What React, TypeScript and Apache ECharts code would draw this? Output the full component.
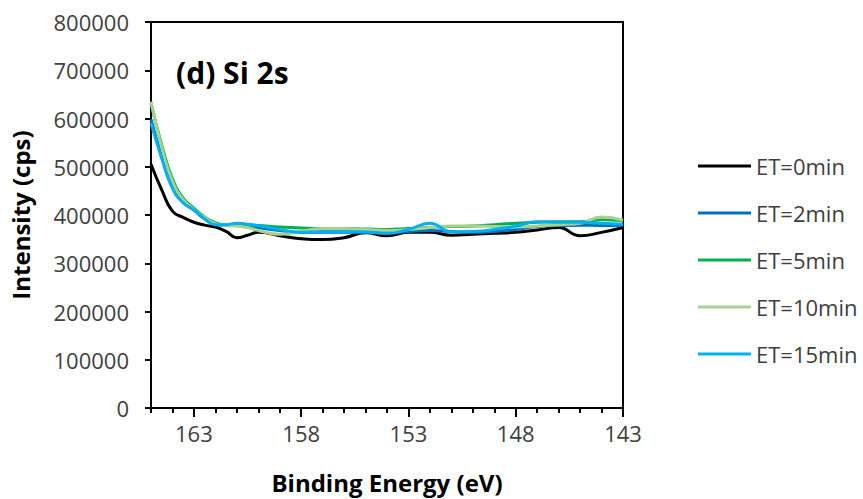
import React, { useEffect, useRef } from "react";
import * as echarts from "echarts";

const energies = [165, 164.5, 164, 163.5, 163, 162.5, 162, 161.5, 161, 160.5, 160, 159, 158, 157, 156, 155, 154, 153, 152, 151, 150, 149, 148, 147, 146, 145, 144, 143];

const et0 = [505000, 452000, 408000, 395000, 385000, 379000, 375000, 366000, 353000, 358000, 364000, 357000, 351000, 349000, 353000, 363000, 357000, 364000, 364000, 358000, 360000, 362000, 364000, 369000, 374000, 357000, 364000, 374000];
const et2 = [598000, 522000, 458000, 427000, 410000, 392000, 381000, 378000, 380000, 378000, 374000, 368000, 364000, 364000, 364000, 364000, 363000, 366000, 368000, 366000, 364000, 366000, 370000, 376000, 378000, 379000, 378000, 379000];
const et5 = [632000, 545000, 475000, 435000, 414000, 396000, 384000, 379000, 379000, 379000, 378000, 375000, 373000, 372000, 372000, 371000, 370000, 372000, 374000, 376000, 377000, 380000, 383000, 385000, 386000, 386000, 390000, 388000];
const et10 = [635000, 540000, 470000, 432000, 412000, 395000, 382000, 378000, 377000, 374000, 368000, 360000, 366000, 372000, 372000, 370000, 368000, 370000, 374000, 377000, 377000, 376000, 375000, 377000, 380000, 383000, 396000, 389000];
const et15 = [591000, 517000, 455000, 425000, 411000, 392000, 380000, 380000, 383000, 381000, 378000, 370000, 364000, 366000, 366000, 365000, 362000, 370000, 383000, 365000, 366000, 370000, 377000, 386000, 385000, 385000, 383000, 381000];

const seriesNames = ["ET=0min", "ET=2min", "ET=5min", "ET=10min", "ET=15min"];
const seriesColors = ["#000000", "#0070C0", "#00B050", "#A9D18E", "#00B0F0"];
const seriesValues = [et0, et2, et5, et10, et15];

const FONT = "'Open Sans', sans-serif";

export default function App() {
  const ref = useRef<HTMLDivElement>(null);
  useEffect(() => {
    if (!ref.current) return;
    const chart = echarts.init(ref.current, null, { renderer: "svg" });
    const series = seriesNames.map((name, i) => ({
      name,
      type: "line",
      xAxisIndex: 0,
      data: energies.map((e, j) => [e, seriesValues[i][j]]),
      smooth: true,
      showSymbol: false,
      symbol: "none",
      lineStyle: { color: seriesColors[i], width: 3 },
      itemStyle: { color: seriesColors[i] },
    }));
    chart.setOption({
      animation: false,
      backgroundColor: "#ffffff",
      title: {
        text: "(d) Si 2s",
        left: 171,
        top: 52,
        textStyle: { fontFamily: FONT, fontSize: 30, fontWeight: "bold", color: "#000000" },
      },
      legend: {
        orient: "vertical",
        left: 693,
        top: 150,
        itemWidth: 53,
        itemHeight: 3,
        itemGap: 25,
        icon: "rect",
        data: seriesNames,
        textStyle: { fontFamily: FONT, fontSize: 22, color: "#404040" },
      },
      grid: {
        left: 151,
        top: 22,
        width: 472,
        height: 387,
        show: true,
        borderColor: "#000000",
        borderWidth: 2,
        backgroundColor: "transparent",
      },
      xAxis: [
        {
          type: "value",
          min: 143,
          max: 165,
          interval: 5,
          inverse: true,
          name: "Binding Energy (eV)",
          nameLocation: "middle",
          nameGap: 62,
          nameTextStyle: { fontFamily: FONT, fontSize: 24, fontWeight: "bold", color: "#000000" },
          axisLine: { show: true, onZero: false, lineStyle: { color: "#000000", width: 2 } },
          axisTick: { show: true, length: 9, lineStyle: { color: "#000000", width: 2 } },
          axisLabel: { margin: 14, fontFamily: FONT, fontSize: 22, color: "#404040", showMinLabel: true, showMaxLabel: false },
          splitLine: { show: false },
        },
        {
          type: "value",
          min: 143,
          max: 165,
          interval: 1,
          inverse: true,
          position: "bottom",
          axisLine: { show: false, onZero: false },
          axisTick: { show: true, length: 5, lineStyle: { color: "#000000", width: 2 } },
          axisLabel: { show: false },
          splitLine: { show: false },
        },
      ],
      yAxis: {
        type: "value",
        min: 0,
        max: 800000,
        interval: 100000,
        name: "Intensity (cps)",
        nameLocation: "middle",
        nameGap: 119,
        nameRotate: 90,
        nameTextStyle: { fontFamily: FONT, fontSize: 24, fontWeight: "bold", color: "#000000" },
        axisLine: { show: true, lineStyle: { color: "#000000", width: 2 } },
        axisTick: { show: true, length: 6, lineStyle: { color: "#000000", width: 2 } },
        axisLabel: {
          margin: 22,
          fontFamily: FONT,
          fontSize: 22,
          color: "#404040",
          formatter: (v: number) => String(v),
        },
        splitLine: { show: false },
      },
      series,
    });
    return () => chart.dispose();
  }, []);
  return (
    <div
      ref={ref}
      style={{ position: "fixed", left: 0, top: 0, width: 863, height: 499, background: "#ffffff" }}
    />
  );
}
